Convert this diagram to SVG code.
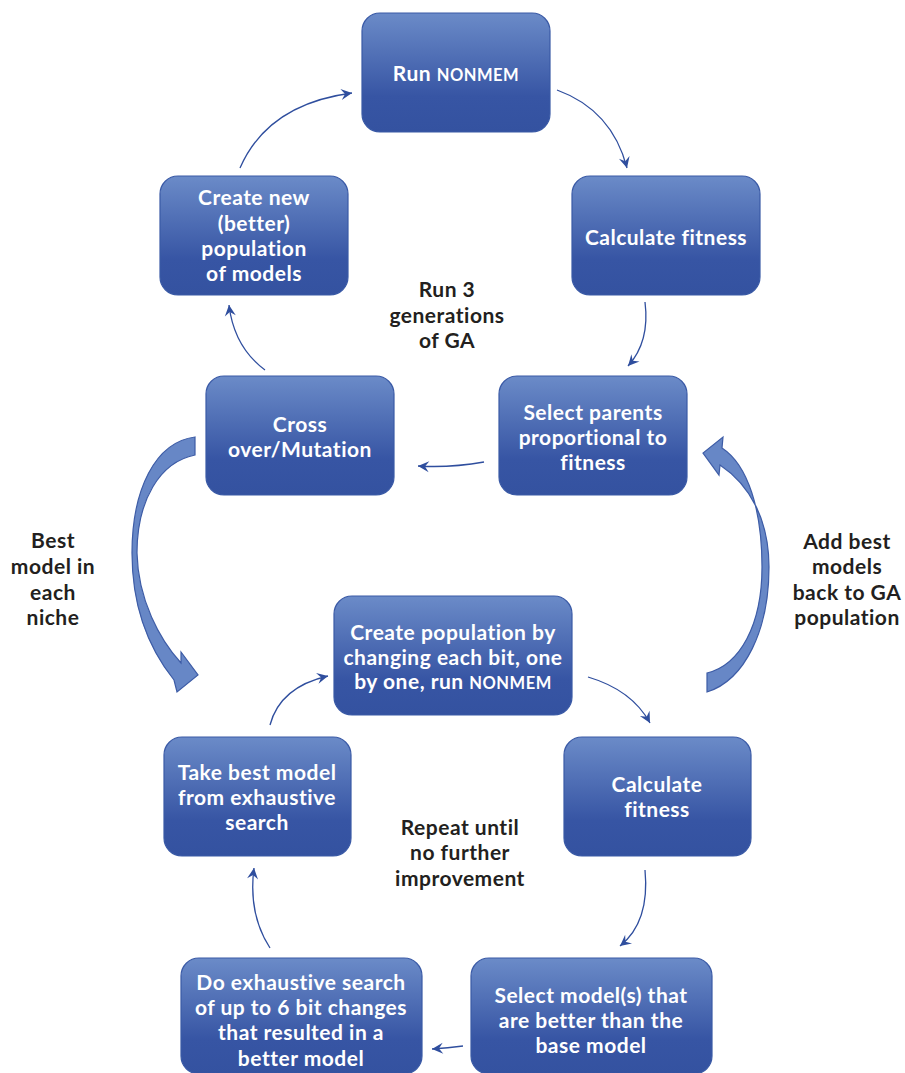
<svg xmlns="http://www.w3.org/2000/svg" width="905" height="1073" viewBox="0 0 905 1073">
<defs>
<linearGradient id="g" x1="0" y1="0" x2="0" y2="1">
<stop offset="0" stop-color="#6b8bc8"/>
<stop offset="0.7" stop-color="#3755a4"/>
<stop offset="1" stop-color="#3452a0"/>
</linearGradient>
<marker id="ah" markerUnits="userSpaceOnUse" markerWidth="14" markerHeight="14" viewBox="-12 -7 14 14" refX="0" refY="0" orient="auto">
<path d="M0,0 L-11,-5.5 L-7,0 L-11,5.5 Z" fill="#2f4e9e"/>
</marker>
</defs>
<style>
.box{fill:url(#g);stroke:#3a5aa6;stroke-width:1.2}
.nt{font-family:Lato,"Open Sans","Liberation Sans",sans-serif;font-weight:bold;font-size:21px;letter-spacing:0.5px;fill:#ffffff;text-anchor:middle;dominant-baseline:central}
.ab{dominant-baseline:alphabetic}
.sc{font-size:16.5px}
.lb{font-family:Lato,"Open Sans","Liberation Sans",sans-serif;font-weight:bold;font-size:21px;letter-spacing:0.5px;fill:#231f20;text-anchor:middle;dominant-baseline:central}
.cn{fill:none;stroke:#2f4e9e;stroke-width:1.3;marker-end:url(#ah)}
.big{fill:#6787c6;stroke:#3d5ca6;stroke-width:1.2}
</style>
<rect width="905" height="1073" fill="#ffffff"/>

<g id="connectors">
<path class="cn" d="M240,168 Q268,104 352,93"/>
<path class="cn" d="M557,90 Q612,110 627,168"/>
<path class="cn" d="M645,302 Q650,342 628,366"/>
<path class="cn" d="M484,462 Q450,468 418,466"/>
<path class="cn" d="M265,370 Q234,347 229,305"/>
<path class="cn" d="M270,725 Q280,687 328,676"/>
<path class="cn" d="M588,677 Q632,690 650,723"/>
<path class="cn" d="M645,870 Q650,922 620,946"/>
<path class="cn" d="M463,1046 Q448,1048 432,1049"/>
<path class="cn" d="M270,948 Q248,914 254,868"/>
<path class="big" d="M195,437 C155,442 132,490 132,553 C132,610 150,650 174,680 L177,692 L198,675 L181,652 L181,663 C160,640 138,600 137,553 C137,500 160,462 195,455 Z"/>
<path class="big" d="M707,692 C745,680 769,630 769,567 C769,520 750,485 720,465 L719,475 L703,453 L723,437 L722,448 C748,465 762,510 762,567 C762,625 740,665 707,673 Z"/>
</g>

<g id="n1"><rect class="box" x="362" y="13" width="188" height="119" rx="18"/>
<text class="nt ab" x="456" y="80.5">Run <tspan class="sc">NONMEM</tspan></text></g>

<g id="n2"><rect class="box" x="572" y="176" width="188" height="119" rx="18"/>
<text class="nt" x="666" y="236">Calculate fitness</text></g>

<g id="n3"><rect class="box" x="499" y="376" width="188" height="119" rx="18"/>
<text class="nt" x="593" y="411">Select parents</text>
<text class="nt" x="593" y="436">proportional to</text>
<text class="nt" x="593" y="461">fitness</text></g>

<g id="n4"><rect class="box" x="206" y="376" width="188" height="119" rx="18"/>
<text class="nt" x="300" y="423">Cross</text>
<text class="nt" x="300" y="448">over/Mutation</text></g>

<g id="n5"><rect class="box" x="160" y="176" width="188" height="119" rx="18"/>
<text class="nt" x="254" y="196">Create new</text>
<text class="nt" x="254" y="222">(better)</text>
<text class="nt" x="254" y="247">population</text>
<text class="nt" x="254" y="272">of models</text></g>

<g id="n6"><rect class="box" x="334" y="596" width="238" height="119" rx="18"/>
<text class="nt" x="453" y="631">Create population by</text>
<text class="nt" x="453" y="656">changing each bit, one</text>
<text class="nt ab" x="453" y="688.5">by one, run <tspan class="sc">NONMEM</tspan></text></g>

<g id="n7"><rect class="box" x="564" y="737" width="187" height="119" rx="18"/>
<text class="nt" x="657" y="783">Calculate</text>
<text class="nt" x="657" y="808">fitness</text></g>

<g id="n8"><rect class="box" x="471" y="958" width="241" height="116" rx="18"/>
<text class="nt" x="591" y="994">Select model(s) that</text>
<text class="nt" x="591" y="1019">are better than the</text>
<text class="nt" x="591" y="1044">base model</text></g>

<g id="n9"><rect class="box" x="181" y="958" width="241" height="116" rx="18"/>
<text class="nt" x="301" y="981">Do exhaustive search</text>
<text class="nt" x="301" y="1006">of up to 6 bit changes</text>
<text class="nt" x="301" y="1031">that resulted in a</text>
<text class="nt" x="301" y="1057">better model</text></g>

<g id="n10"><rect class="box" x="164" y="737" width="187" height="119" rx="18"/>
<text class="nt" x="257" y="771">Take best model</text>
<text class="nt" x="257" y="796">from exhaustive</text>
<text class="nt" x="257" y="821">search</text></g>

<g id="labels">
<text class="lb" x="447" y="288">Run 3</text>
<text class="lb" x="447" y="314">generations</text>
<text class="lb" x="447" y="339">of GA</text>
<text class="lb" x="53" y="539">Best</text>
<text class="lb" x="53" y="565">model in</text>
<text class="lb" x="53" y="591">each</text>
<text class="lb" x="53" y="616">niche</text>
<text class="lb" x="847" y="540">Add best</text>
<text class="lb" x="847" y="565">models</text>
<text class="lb" x="847" y="591">back to GA</text>
<text class="lb" x="847" y="616">population</text>
<text class="lb" x="460" y="826">Repeat until</text>
<text class="lb" x="460" y="851">no further</text>
<text class="lb" x="460" y="877">improvement</text>
</g>
</svg>
